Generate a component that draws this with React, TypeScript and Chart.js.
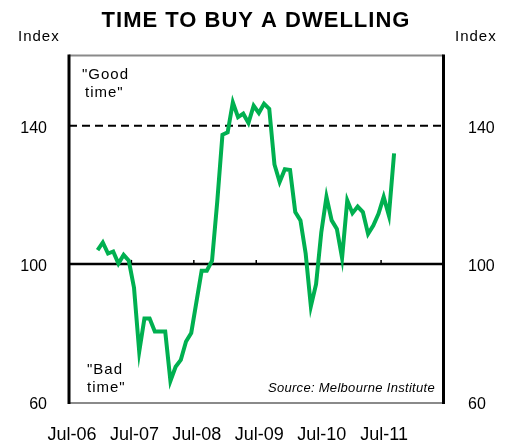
import React, { useEffect, useRef } from 'react';
import { Chart, registerables } from 'chart.js';

Chart.register(...registerables);

const titleText = 'TIME TO BUY A DWELLING';
const axisTitle = 'Index';
const sourceText = 'Source: Melbourne Institute';
const goodLabel = ['"Good', 'time"'];
const badLabel = ['"Bad', 'time"'];

const xTickLabels = ['Jul-06', 'Jul-07', 'Jul-08', 'Jul-09', 'Jul-10', 'Jul-11'];
const yTicks = [60, 100, 140];
const yMin = 60;
const yMax = 160.5;
const neutralLevel = 100;
const goodLevel = 140;

const months = [
  'Dec-06',
  'Jan-07', 'Feb-07', 'Mar-07', 'Apr-07', 'May-07', 'Jun-07', 'Jul-07', 'Aug-07', 'Sep-07', 'Oct-07', 'Nov-07', 'Dec-07',
  'Jan-08', 'Feb-08', 'Mar-08', 'Apr-08', 'May-08', 'Jun-08', 'Jul-08', 'Aug-08', 'Sep-08', 'Oct-08', 'Nov-08', 'Dec-08',
  'Jan-09', 'Feb-09', 'Mar-09', 'Apr-09', 'May-09', 'Jun-09', 'Jul-09', 'Aug-09', 'Sep-09', 'Oct-09', 'Nov-09', 'Dec-09',
  'Jan-10', 'Feb-10', 'Mar-10', 'Apr-10', 'May-10', 'Jun-10', 'Jul-10', 'Aug-10', 'Sep-10', 'Oct-10', 'Nov-10', 'Dec-10',
  'Jan-11', 'Feb-11', 'Mar-11', 'Apr-11', 'May-11', 'Jun-11', 'Jul-11', 'Aug-11', 'Sep-11',
];

const values = [
  104,
  106.2, 103, 103.6, 100.1, 102.6, 100.9, 93.1, 74.6, 84.2, 84.2, 80.4, 80.4,
  80.4, 66.1, 70.2, 72.2, 77.5, 80, 89, 98, 98, 100.9, 118, 137.4,
  138.1, 146.8, 142.5, 143.5, 140.8, 145.8, 143.7, 146.4, 144.9, 128.8, 123.7, 127.4,
  127.2, 115, 112.6, 103, 87.7, 94.1, 109.1, 119.4, 112.6, 110.1, 101.7, 118.4,
  114.7, 116.6, 115, 108.7, 111.1, 114.5, 119.4, 114, 132,
];

const MONTH_NAMES = ['Jan', 'Feb', 'Mar', 'Apr', 'May', 'Jun', 'Jul', 'Aug', 'Sep', 'Oct', 'Nov', 'Dec'];

// months since Jul-06, point centred within its month
function monthPos(label: string): number {
  const [m, yy] = label.split('-');
  const year = 2000 + parseInt(yy, 10);
  return (year - 2006) * 12 + (MONTH_NAMES.indexOf(m) - 6) + 0.5;
}

const FONT = "'Liberation Sans', Arial, sans-serif";

const decorPlugin = {
  id: 'decor',
  beforeDatasetsDraw(chart: any) {
    const { ctx, chartArea, scales } = chart;
    const { left, right } = chartArea;
    const x = scales.x;
    const y = scales.y;
    ctx.save();
    const yG = y.getPixelForValue(goodLevel);
    ctx.strokeStyle = '#000';
    ctx.lineWidth = 2;
    ctx.setLineDash([8, 5]);
    ctx.beginPath();
    ctx.moveTo(left, yG);
    ctx.lineTo(right, yG);
    ctx.stroke();
    ctx.setLineDash([]);
    const yN = y.getPixelForValue(neutralLevel);
    ctx.lineWidth = 2.5;
    ctx.beginPath();
    ctx.moveTo(left, yN);
    ctx.lineTo(right, yN);
    ctx.stroke();
    ctx.lineWidth = 1.5;
    for (let i = 1; i <= xTickLabels.length; i++) {
      const px = x.getPixelForValue(i * 12);
      ctx.beginPath();
      ctx.moveTo(px, yN);
      ctx.lineTo(px, yN - 4);
      ctx.stroke();
    }
    ctx.restore();
  },
  afterDraw(chart: any) {
    const { ctx, chartArea } = chart;
    const { left, right, top, bottom } = chartArea;
    ctx.save();
    ctx.strokeStyle = '#8a8a8a';
    ctx.lineWidth = 2;
    ctx.beginPath();
    ctx.moveTo(left, top + 0.5);
    ctx.lineTo(right, top + 0.5);
    ctx.moveTo(left, bottom + 1);
    ctx.lineTo(right, bottom + 1);
    ctx.stroke();
    ctx.strokeStyle = '#000';
    ctx.lineWidth = 3;
    ctx.beginPath();
    ctx.moveTo(left, top - 0.5);
    ctx.lineTo(left, bottom + 2);
    ctx.moveTo(right, top - 0.5);
    ctx.lineTo(right, bottom + 2);
    ctx.stroke();

    ctx.fillStyle = '#000';
    ctx.textBaseline = 'alphabetic';
    (ctx as any).letterSpacing = '1px';
    ctx.font = `bold 22px ${FONT}`;
    ctx.textAlign = 'center';
    ctx.fillText(titleText, 256, 27);

    ctx.font = `15px ${FONT}`;
    ctx.textAlign = 'left';
    ctx.fillText(axisTitle, 18, 41);
    ctx.fillText(axisTitle, 455, 41);

    ctx.fillText(goodLabel[0], 82, 79);
    ctx.fillText(goodLabel[1], 85, 97);
    ctx.fillText(badLabel[0], 87, 374);
    ctx.fillText(badLabel[1], 87, 392);

    (ctx as any).letterSpacing = '0.3px';
    ctx.font = `italic 13px ${FONT}`;
    ctx.textAlign = 'right';
    ctx.fillText(sourceText, 435, 392);
    ctx.restore();
  },
};

export default function App() {
  const canvasRef = useRef<HTMLCanvasElement | null>(null);

  useEffect(() => {
    const canvas = canvasRef.current;
    if (!canvas) return;
    const points = months.map((m, i) => ({ x: monthPos(m), y: values[i] }));
    const yAxisCommon = {
      min: yMin,
      max: yMax,
      grid: { display: false, drawTicks: false },
      border: { display: false },
      afterBuildTicks: (s: any) => {
        s.ticks = yTicks.map((v) => ({ value: v }));
      },
    };
    const chart = new Chart(canvas, {
      type: 'line',
      data: {
        datasets: [
          {
            data: points,
            borderColor: '#00B050',
            borderWidth: 4,
            pointRadius: 0,
            tension: 0,
            fill: false,
          },
        ],
      },
      options: {
        responsive: false,
        animation: false,
        devicePixelRatio: 1,
        layout: { padding: { top: 55, left: 0, right: 0, bottom: 0 } },
        plugins: {
          legend: { display: false },
          title: { display: false },
          tooltip: { enabled: false },
        },
        scales: {
          x: {
            type: 'linear',
            min: 0,
            max: 72,
            grid: { display: false, drawTicks: false },
            border: { display: false },
            afterBuildTicks: (s: any) => {
              s.ticks = xTickLabels.map((_, i) => ({ value: i * 12 }));
            },
            ticks: {
              callback: (v: any) => xTickLabels[Math.round(v / 12)] ?? '',
              font: { family: FONT, size: 18 },
              color: '#000',
              padding: 22,
              maxRotation: 0,
              autoSkip: false,
              labelOffset: 3,
            },
            afterFit: (s: any) => {
              s.height = 41;
            },
          },
          y: {
            ...yAxisCommon,
            position: 'left',
            ticks: { font: { family: FONT, size: 16 }, color: '#000', padding: 22, labelOffset: 2.5 },
            afterFit: (s: any) => {
              s.width = 69;
            },
          },
          y2: {
            ...yAxisCommon,
            position: 'right',
            ticks: { font: { family: FONT, size: 16 }, color: '#000', padding: 24.5, labelOffset: 2.5 },
            afterFit: (s: any) => {
              s.width = 68.5;
            },
          },
        } as any,
      },
      plugins: [decorPlugin],
    });
    return () => chart.destroy();
  }, []);

  return (
    <div style={{ position: 'absolute', left: 0, top: 0, width: 512, height: 443, background: '#fff' }}>
      <canvas ref={canvasRef} width={512} height={443} style={{ display: 'block' }} />
    </div>
  );
}
